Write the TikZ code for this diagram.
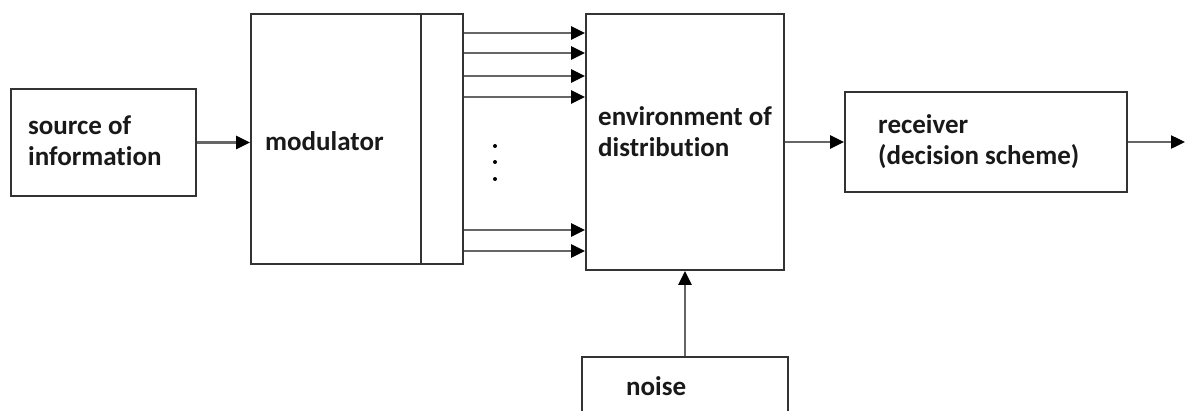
\documentclass[tikz,border=0pt]{standalone}
\usepackage{fontspec}
\setmainfont{Carlito}[Ligatures=NoCommon]
\usetikzlibrary{arrows.meta}
\tikzset{
  box/.style={draw=black!80, line width=1.8pt, inner sep=0pt},
  lbl/.style={font=\bfseries\fontsize{27}{31}\selectfont, anchor=base west, align=left, inner sep=0pt, text=black!90},
  arr/.style={draw=black!60, line width=2.4pt, -{Triangle[length=14pt,width=13pt,color=black]}}
}
\begin{document}
\begin{tikzpicture}[x=1pt,y=-1pt]
\useasboundingbox (0,0) rectangle (1185,410);
\clip (0,0) rectangle (1185,410);
\node[box, minimum width=185, minimum height=107] (src) at (103.5,142.5) {};
\node[box, minimum width=170, minimum height=250] (mod) at (336,139) {};
\node[box, minimum width=42, minimum height=250] (strip) at (442,139) {};
\node[box, minimum width=198, minimum height=256] (env) at (685,142) {};
\node[box, minimum width=282, minimum height=100] (recv) at (986,142) {};
\node[box, minimum width=206, minimum height=73] (noise) at (685,393.5) {};
\coordinate (out) at (1185,142);

\node[lbl] (srct) at (28,165) {source of\\information};
\node[lbl] (modt) at (265,150) {modulator};
\node[lbl] (envt) at (598,156) {environment of\\distribution};
\node[lbl] (recvt) at (878,164) {receiver\\(decision scheme)};
\node[lbl] (noiset) at (626,395) {noise};

\draw[arr] (src.east) -- (src.east -| mod.west);
\foreach \yy in {33,53,76,97,230,251}
  \draw[arr] (strip.east |- 0,\yy) -- (env.west |- 0,\yy);
\draw[arr] (env.east) -- (recv.west);
\draw[arr] (recv.east) -- (out);
\draw[arr] (noise.north) -- (env.south);
\foreach \yy in {146,162,179}
  \fill[black] (495,\yy) circle (2);
\end{tikzpicture}
\end{document}
